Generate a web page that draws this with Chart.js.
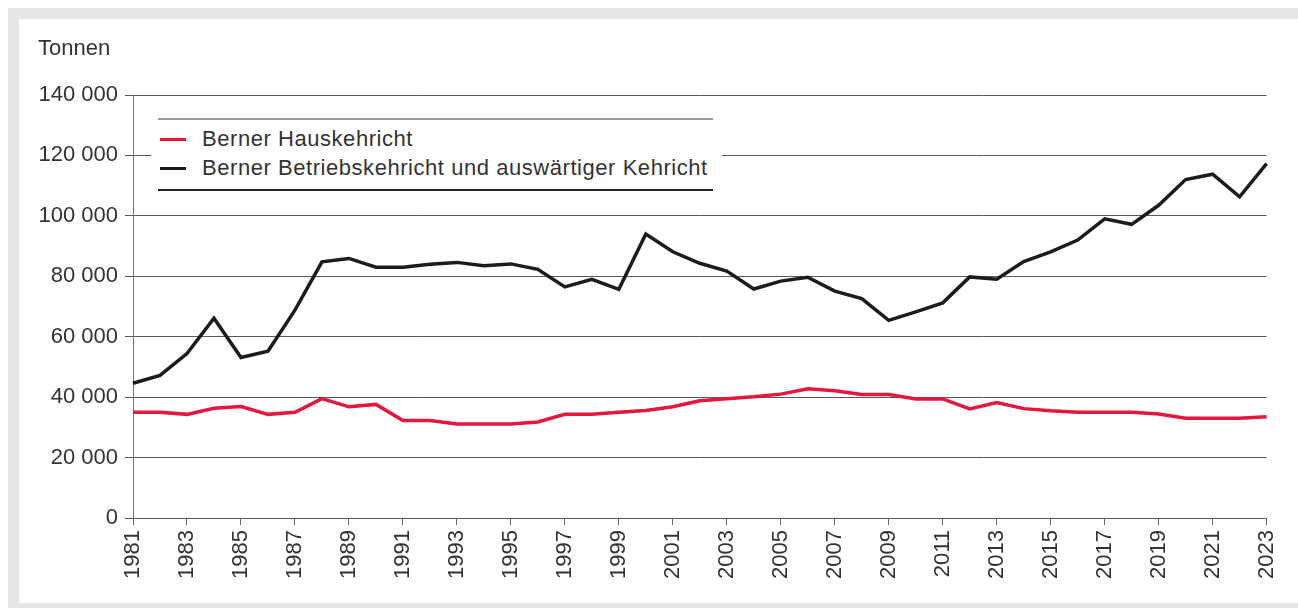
<!DOCTYPE html>
<html>
<head>
<meta charset="utf-8">
<script src="https://cdn.jsdelivr.net/npm/chart.js@4.4.1/dist/chart.umd.min.js"></script>
<style>
  html, body { margin: 0; padding: 0; background: #ffffff; }
  body { width: 1298px; height: 608px; position: relative; overflow: hidden; font-family: "Liberation Sans", Arial, sans-serif; color: #333; }
  #frame { position: absolute; left: 8px; top: 8px; width: 1300px; height: 600px; background: #e6e6e6; }
  #panel { position: absolute; left: 19px; top: 19px; width: 1290px; height: 584px; background: #ffffff; }
  #wrap { position: absolute; left: 0; top: 0; width: 1298px; height: 608px; }
  #unit { position: absolute; left: 38px; top: 35px; font-size: 22px; line-height: 26px; color: #333; }
  #legend { position: absolute; left: 151px; top: 112px; width: 571px; height: 85px; background: #fff; }
  #legend .topline { position: absolute; left: 7px; top: 6px; width: 555px; height: 2px; background: #9a9a9a; }
  #legend .botline { position: absolute; left: 7px; top: 77px; width: 555px; height: 2px; background: #222; }
  #legend .item { position: absolute; left: 9px; height: 26px; font-size: 22px; line-height: 26px; color: #333; white-space: nowrap; letter-spacing: 0.55px; }
  #legend .swatch { display: inline-block; width: 26px; height: 3px; vertical-align: middle; margin-right: 16px; position: relative; top: -1px; }
</style>
</head>
<body>
<div id="frame"></div>
<div id="panel"></div>
<div id="wrap"><canvas id="c"></canvas></div>
<div id="unit">Tonnen</div>
<div id="legend"><div class="topline"></div><div class="botline"></div></div>
<script>
const years = ["1981","1982","1983","1984","1985","1986","1987","1988","1989","1990",
  "1991","1992","1993","1994","1995","1996","1997","1998","1999","2000",
  "2001","2002","2003","2004","2005","2006","2007","2008","2009","2010",
  "2011","2012","2013","2014","2015","2016","2017","2018","2019","2020",
  "2021","2022","2023"];

const hauskehricht = [35000, 35000, 34300, 36300, 36900, 34300, 35000, 39500, 36800, 37600,
  32300, 32300, 31100, 31100, 31100, 31800, 34300, 34300, 35000, 35600,
  36800, 38800, 39500, 40100, 41000, 42800, 42100, 40900, 40900, 39400,
  39400, 36100, 38200, 36200, 35500, 35000, 35000, 35000, 34400, 33000,
  33000, 33000, 33500];

const betriebskehricht = [44600, 47200, 54400, 66100, 53100, 55200, 68800, 84800, 85900, 83000,
  83000, 84000, 84600, 83500, 84100, 82300, 76500, 79000, 75700, 94000,
  88100, 84300, 81700, 75800, 78400, 79700, 75100, 72600, 65400, 68200,
  71200, 79800, 79000, 84900, 88100, 92000, 99000, 97200, 103500, 112000,
  113800, 106300, 117300];

const seriesLabels = ["Berner Hauskehricht", "Berner Betriebskehricht und auswärtiger Kehricht"];
const yTicks = [0, 20000, 40000, 60000, 80000, 100000, 120000, 140000];

const FONT = "'Liberation Sans', Arial, sans-serif";
const TEXT = "#333333";

const chart = new Chart(document.getElementById('c'), {
  type: 'line',
  data: {
    labels: years,
    datasets: [
      { label: seriesLabels[0], data: hauskehricht, borderColor: '#e4173e', backgroundColor: '#e4173e',
        borderWidth: 3.5, pointRadius: 0, tension: 0, fill: false },
      { label: seriesLabels[1], data: betriebskehricht, borderColor: '#1c1c1c', backgroundColor: '#1c1c1c',
        borderWidth: 3.5, pointRadius: 0, tension: 0, fill: false }
    ]
  },
  options: {
    responsive: true,
    maintainAspectRatio: false,
    animation: false,
    events: [],
    layout: { padding: { left: 0, top: 95, right: 30, bottom: 0 } },
    plugins: { legend: { display: false }, tooltip: { enabled: false }, title: { display: false } },
    scales: {
      x: {
        type: 'category',
        offset: false,
        afterFit: (s) => { s.height = 90; },
        grid: { display: true, drawOnChartArea: false, drawTicks: true, tickLength: 7, color: '#6a6a6a', lineWidth: 1 },
        border: { display: true, color: '#5a5a5a', width: 1 },
        ticks: {
          autoSkip: false, maxRotation: 90, minRotation: 90, padding: 5,
          color: TEXT, font: { family: FONT, size: 22 },
          callback: function (v, i) { return (i % 2 === 0) ? this.getLabelForValue(v) : null; }
        }
      },
      y: {
        min: 0, max: 140000,
        afterFit: (s) => { s.width = 133; },
        afterBuildTicks: (s) => { s.ticks = yTicks.map(v => ({ value: v })); },
        grid: { display: true, drawOnChartArea: true, drawTicks: true, tickLength: 8, color: '#5a5a5a', lineWidth: 1 },
        border: { display: true, color: '#777777', width: 1 },
        ticks: {
          padding: 7, color: TEXT, font: { family: FONT, size: 22 },
          callback: (v) => String(v).replace(/\B(?=(\d{3})+(?!\d))/g, ' ')
        }
      }
    }
  }
});

// HTML legend built from the chart's datasets
const legend = document.getElementById('legend');
const tops = [14, 43];
chart.data.datasets.forEach((ds, i) => {
  const item = document.createElement('div');
  item.className = 'item';
  item.style.top = tops[i] + 'px';
  const sw = document.createElement('span');
  sw.className = 'swatch';
  sw.style.background = ds.borderColor;
  item.appendChild(sw);
  item.appendChild(document.createTextNode(ds.label));
  legend.appendChild(item);
});
</script>
</body>
</html>
